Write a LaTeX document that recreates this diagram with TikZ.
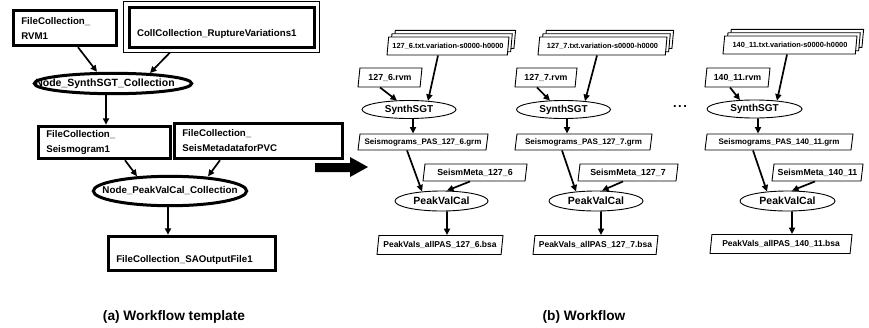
\documentclass[tikz,border=0pt]{standalone}
\usepackage{fontspec}
\setmainfont{Liberation Sans}
\usetikzlibrary{shapes.geometric,shadows,arrows.meta}
\begin{document}
\begin{tikzpicture}[x=1pt,y=-1pt,
  lbox/.style={draw,line width=3pt,rectangle,inner xsep=8pt,inner ysep=0pt,align=left,
    font=\bfseries\fontsize{9.7}{15}\selectfont},
  lell/.style={draw,line width=3pt,ellipse,inner sep=0pt},
  pbox/.style={draw,line width=0.9pt,trapezium,trapezium left angle=75,trapezium right angle=105,
    trapezium stretches body,inner xsep=0pt,inner ysep=0pt,fill=white},
  vbox/.style={pbox,double copy shadow={shadow xshift=3.3pt,shadow yshift=3.3pt},
    minimum height=18pt,font=\bfseries\fontsize{7.4}{9}\selectfont},
  rvmbox/.style={pbox,minimum height=19pt,font=\bfseries\fontsize{8.8}{10}\selectfont},
  grmbox/.style={pbox,minimum height=16pt,font=\bfseries\fontsize{8}{9}\selectfont},
  metabox/.style={pbox,minimum height=17pt,font=\bfseries\fontsize{8.8}{10}\selectfont},
  bsabox/.style={pbox,minimum height=19pt,font=\bfseries\fontsize{8.5}{10}\selectfont},
  sgtell/.style={draw,line width=0.9pt,ellipse,inner sep=0pt,minimum width=94pt,minimum height=18pt,
    font=\bfseries\fontsize{10}{11}\selectfont},
  pvcell/.style={draw,line width=0.9pt,ellipse,inner sep=0pt,minimum width=94pt,minimum height=20pt,
    font=\bfseries\fontsize{10.5}{11}\selectfont},
  arr/.style={-{Triangle[length=6.5pt,width=6pt]},line width=1.7pt},
  captxt/.style={font=\bfseries\fontsize{13.7}{16}\selectfont},
]
\path[fill=white] (0,0) rectangle (869,327);
\useasboundingbox (0,0) rectangle (869,327);

% ---------- (a) Workflow template ----------
\node[lbox,minimum width=103.4pt,minimum height=35.4pt,text width=87.4pt] (rvm1) at (65,28) {FileCollection\_\\RVM1};
\node[lbox,minimum width=185pt,minimum height=40pt,text width=169pt,text height=20pt,text depth=2pt] (coll) at (221.5,27) {CollCollection\_RuptureVariations1};
\draw[line width=0.9pt] ([shift={(-4pt,4pt)}]coll.north west) rectangle ([shift={(4pt,-4pt)}]coll.south east);
\node[lell,minimum width=157.4pt,minimum height=20.4pt,
  label={[font=\bfseries\fontsize{10.5}{12}\selectfont,xshift=-8pt]center:Node\_SynthSGT\_Collection}] (sgtc) at (113,83.5) {};
\node[lbox,minimum width=132.4pt,minimum height=32.4pt,text width=116.4pt] (seis1) at (104.5,142.5) {FileCollection\_\\Seismogram1};
\node[lbox,minimum width=168.4pt,minimum height=35.4pt,text width=152.4pt] (seism) at (258.5,141) {FileCollection\_\\SeisMetadataforPVC};
\node[lell,minimum width=153.4pt,minimum height=29.4pt,
  label={[font=\bfseries\fontsize{9.8}{12}\selectfont]center:Node\_PeakValCal\_Collection}] (pvcc) at (170,191) {};
\node[lbox,minimum width=167.4pt,minimum height=34.4pt,text width=151.4pt,text height=20pt,text depth=2pt] (sao) at (192,253.5) {FileCollection\_SAOutputFile1};

\draw[arr] ([xshift=13pt]rvm1.south) -- ([xshift=-16pt]sgtc.north);
\draw[arr] ([xshift=-51.5pt,yshift=-4pt]coll.south) -- ([xshift=37pt,yshift=-1.2pt]sgtc.north);
\draw[arr] ([xshift=-7pt]sgtc.south) -- ([xshift=1.5pt]seis1.north);
\draw[arr] ([xshift=20.5pt]seis1.south) -- ([xshift=-33pt,yshift=-1.4pt]pvcc.north);
\draw[arr] ([xshift=-38.5pt]seism.south) -- ([xshift=38pt,yshift=-1.6pt]pvcc.north);
\draw[arr] ([xshift=-2pt]pvcc.south) -- ([xshift=-24pt]sao.north);

\node[captxt] (capa) at (174,317) {(a) Workflow template};

% big arrow
\fill (315,163) -- (350,163) -- (350,157) -- (368,167) -- (350,177) -- (350,172) -- (315,172) -- cycle;

% ---------- (b) Workflow ----------
% column 1
\node[vbox,minimum width=122pt] (v1) at (448,46) {127\_6.txt.variation-s0000-h0000};
\node[rvmbox,minimum width=64pt] (r1) at (390,77.5) {127\_6.rvm};
\node[sgtell] (s1) at (409,109.5) {SynthSGT};
\node[grmbox,minimum width=130pt] (g1) at (423,142) {Seismograms\_PAS\_127\_6.grm};
\node[metabox,minimum width=104pt] (m1) at (475,172.5) {SeismMeta\_127\_6};
\node[pvcell,minimum width=93pt] (p1) at (441.5,201) {PeakValCal};
\node[bsabox,minimum width=126pt] (b1) at (440,245) {PeakVals\_allPAS\_127\_6.bsa};

\draw[arr] ([xshift=-10pt]r1.south) -- ([xshift=-12pt,yshift=-0.5pt]s1.north);
\draw[arr] ([xshift=-10pt]v1.south) -- ([xshift=19pt,yshift=-0.8pt]s1.north);
\draw[arr] ([xshift=4pt]s1.south) -- ([xshift=-10pt]g1.north);
\draw[arr] ([xshift=-16pt]g1.south) -- ([xshift=-19.5pt,yshift=-0.9pt]p1.north);
\draw[arr] ([xshift=-5pt]m1.south) -- ([xshift=5.5pt]p1.north);
\draw[arr] ([xshift=5.5pt]p1.south) -- ([xshift=7pt]b1.north);

% column 2
\node[vbox,minimum width=129pt] (v2) at (602.5,46) {127\_7.txt.variation-s0000-h0000};
\node[rvmbox,minimum width=62pt] (r2) at (546,77.5) {127\_7.rvm};
\node[sgtell] (s2) at (563.5,109.5) {SynthSGT};
\node[grmbox,minimum width=137pt] (g2) at (583.5,142) {Seismograms\_PAS\_127\_7.grm};
\node[metabox,minimum width=100pt] (m2) at (628,172.5) {SeismMeta\_127\_7};
\node[pvcell] (p2) at (596,201) {PeakValCal};
\node[bsabox,minimum width=125pt] (b2) at (595.5,245) {PeakVals\_allPAS\_127\_7.bsa};

\draw[arr] ([xshift=-9pt]r2.south) -- ([xshift=-13.5pt,yshift=-0.6pt]s2.north);
\draw[arr] ([xshift=-5.5pt]v2.south) -- ([xshift=21.5pt,yshift=-1pt]s2.north);
\draw[arr] ([xshift=3.5pt]s2.south) -- ([xshift=-16.5pt]g2.north);
\draw[arr] ([xshift=-21.5pt]g2.south) -- ([xshift=-20pt,yshift=-0.95pt]p2.north);
\draw[arr] ([xshift=-5pt]m2.south) -- ([xshift=6pt]p2.north);
\draw[arr] ([xshift=5pt]p2.south) -- ([xshift=5.5pt]b2.north);

\node[font=\bfseries\fontsize{13}{14}\selectfont] (dots) at (680,107) {.\hspace{1.5pt}.\hspace{1.5pt}.};

% column 3
\node[vbox,minimum width=134pt] (v3) at (790,45) {140\_11.txt.variation-s0000-h0000};
\node[rvmbox,minimum width=65pt] (r3) at (737.5,77.5) {140\_11.rvm};
\node[sgtell,minimum width=95pt] (s3) at (754.5,109) {SynthSGT};
\node[grmbox,minimum width=148pt] (g3) at (779,142) {Seismograms\_PAS\_140\_11.grm};
\node[metabox,minimum width=91pt] (m3) at (817.5,172.5) {SeismMeta\_140\_11};
\node[pvcell,minimum width=95pt] (p3) at (787.5,201) {PeakValCal};
\node[bsabox,minimum width=142pt] (b3) at (781,244) {PeakVals\_allPAS\_140\_11.bsa};

\draw[arr] ([xshift=-7.5pt]r3.south) -- ([xshift=-14.5pt,yshift=-0.5pt]s3.north);
\draw[arr] ([xshift=-3pt]v3.south) -- ([xshift=22.5pt,yshift=-1.1pt]s3.north);
\draw[arr] ([xshift=3.5pt]s3.south) -- ([xshift=-21pt]g3.north);
\draw[arr] ([xshift=-26pt]g3.south) -- ([xshift=-20.5pt,yshift=-1pt]p3.north);
\draw[arr] ([xshift=-2.5pt]m3.south) -- ([xshift=4.5pt]p3.north);
\draw[arr] ([xshift=4.5pt]p3.south) -- ([xshift=11pt]b3.north);

\node[captxt] (capb) at (584,317) {(b) Workflow};
\end{tikzpicture}
\end{document}
